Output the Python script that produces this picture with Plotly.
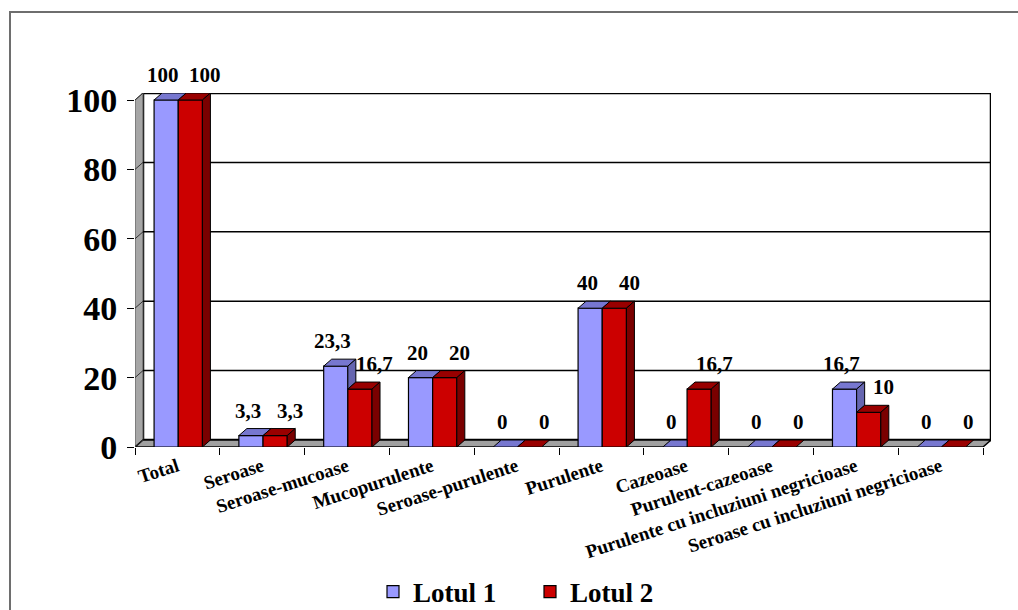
import plotly.graph_objects as go

# ---- data -------------------------------------------------------------
categories = [
    "Total",
    "Seroase",
    "Seroase-mucoase",
    "Mucopurulente",
    "Seroase-purulente",
    "Purulente",
    "Cazeoase",
    "Purulent-cazeoase",
    "Purulente cu incluziuni negricioase",
    "Seroase cu incluziuni negricioase",
]
lotul1 = [100, 3.3, 23.3, 20, 0, 40, 0, 0, 16.7, 0]
lotul2 = [100, 3.3, 16.7, 20, 0, 40, 16.7, 0, 10, 0]
series_names = ["Lotul 1", "Lotul 2"]
y_ticks = [0, 20, 40, 60, 80, 100]

# ---- styling / geometry ---------------------------------------------
FONT = "Liberation Serif, Times New Roman, serif"
W, H = 1018, 610
L, R, T, B = 135, 991, 93, 447          # plot area in pixels
DXP, DYP = 8, 7                          # depth of the pseudo-3D look (px)

ppu_y = (B - T - DYP) / 100.0
ppu_x = (R - DXP - L) / 10.0
dxu = DXP / ppu_x
dyu = DYP / ppu_y

front = {"Lotul 1": "#9999FF", "Lotul 2": "#CC0000"}
top_c = {"Lotul 1": "#7777D0", "Lotul 2": "#990000"}
side_c = {"Lotul 1": "#6666B0", "Lotul 2": "#7A0000"}

bar_w = 0.285
offsets = {"Lotul 1": -0.275, "Lotul 2": 0.01}
xs = list(range(len(categories)))


def fmt(v):
    return ("%g" % v).replace(".", ",")


fig = go.Figure()

# front faces of the bars
for name, vals in zip(series_names, [lotul1, lotul2]):
    fig.add_trace(go.Bar(
        x=xs, y=vals, name=name, width=bar_w, offset=offsets[name],
        marker=dict(color=front[name], line=dict(color="black", width=1.2)),
        hoverinfo="skip",
    ))


def poly_trace(polys, color):
    px, py = [], []
    for p in polys:
        for (a, b) in p + [p[0]]:
            px.append(a)
            py.append(b)
        px.append(None)
        py.append(None)
    return go.Scatter(x=px, y=py, mode="lines", fill="toself",
                      fillcolor=color, line=dict(color="black", width=1),
                      showlegend=False, hoverinfo="skip")


tops = {"Lotul 1": [], "Lotul 2": []}
sides = {"Lotul 1": [], "Lotul 2": []}
for i, (v1, v2) in enumerate(zip(lotul1, lotul2)):
    # Lotul 1 (partly hidden behind Lotul 2)
    xl = i + offsets["Lotul 1"]
    xr = xl + bar_w
    if v2 > v1:
        tops["Lotul 1"].append([(xl, v1), (xr, v1), (xr, v1 + dyu), (xl + dxu, v1 + dyu)])
    else:
        tops["Lotul 1"].append([(xl, v1), (xr, v1), (xr + dxu, v1 + dyu), (xl + dxu, v1 + dyu)])
    if v1 > v2:
        sides["Lotul 1"].append([(xr, v2), (xr, v1), (xr + dxu, v1 + dyu), (xr + dxu, v2 + dyu)])
    # Lotul 2
    xl = i + offsets["Lotul 2"]
    xr = xl + bar_w
    tops["Lotul 2"].append([(xl, v2), (xr, v2), (xr + dxu, v2 + dyu), (xl + dxu, v2 + dyu)])
    if v2 > 0:
        sides["Lotul 2"].append([(xr, 0), (xr, v2), (xr + dxu, v2 + dyu), (xr + dxu, dyu)])

for name in series_names:
    fig.add_trace(poly_trace(tops[name], top_c[name]))
    if sides[name]:
        fig.add_trace(poly_trace(sides[name], side_c[name]))

# ---- walls, floor and gridlines -------------------------------------
x0, x1 = -0.5, len(categories) - 0.5
shapes = []


def path(pts):
    return "M " + " L ".join(f"{a},{b}" for a, b in pts) + " Z"


# back wall
shapes.append(dict(type="rect", xref="x", yref="y", x0=x0 + dxu, x1=x1 + dxu,
                   y0=dyu, y1=100 + dyu, fillcolor="white",
                   line=dict(color="black", width=2.5), layer="below"))
# left side wall
shapes.append(dict(type="path", xref="x", yref="y",
                   path=path([(x0, 0), (x0, 100), (x0 + dxu, 100 + dyu), (x0 + dxu, dyu)]),
                   fillcolor="#A6A6A6", line=dict(color="#555555", width=1), layer="below"))
# floor
shapes.append(dict(type="path", xref="x", yref="y",
                   path=path([(x0, 0), (x1, 0), (x1 + dxu, dyu), (x0 + dxu, dyu)]),
                   fillcolor="#A0A0A0", line=dict(color="black", width=1.5), layer="below"))
# gridlines on back wall and across the side wall
for v in y_ticks[1:-1]:
    shapes.append(dict(type="line", xref="x", yref="y", x0=x0 + dxu, x1=x1 + dxu,
                       y0=v + dyu, y1=v + dyu, line=dict(color="black", width=1.5),
                       layer="below"))
for v in y_ticks:
    shapes.append(dict(type="line", xref="x", yref="y", x0=x0, x1=x0 + dxu,
                       y0=v, y1=v + dyu, line=dict(color="#333333", width=1),
                       layer="below"))

# outer chart frame
plot_w, plot_h = R - L, B - T
shapes.append(dict(type="rect", xref="paper", yref="paper",
                   x0=(10 - L) / plot_w, x1=(W + 30 - L) / plot_w,
                   y0=(B - (H + 30)) / plot_h, y1=(B - 12) / plot_h,
                   line=dict(color="#6E6E6E", width=2), fillcolor="rgba(0,0,0,0)",
                   layer="below"))

# ---- value labels ---------------------------------------------------
annotations = []
label_dx = {"Lotul 1": -3, "Lotul 2": 15}
for name, vals in zip(series_names, [lotul1, lotul2]):
    for i, v in enumerate(vals):
        annotations.append(dict(
            x=i + offsets[name] + bar_w / 2, y=v, xref="x", yref="y",
            text=fmt(v), showarrow=False,
            xshift=label_dx[name], yshift=DYP + 18,
            font=dict(family=FONT, size=21, color="black", weight="bold"),
        ))

fig.update_layout(
    width=W, height=H,
    margin=dict(l=L, r=W - R, t=T, b=H - B, pad=0, autoexpand=False),
    paper_bgcolor="white", plot_bgcolor="white",
    barmode="overlay",
    shapes=shapes, annotations=annotations,
    showlegend=True,
    legend=dict(orientation="h", xanchor="center", yanchor="middle",
                x=(530 - L) / plot_w, y=(B - 592) / plot_h,
                font=dict(family=FONT, size=27, color="black", weight="bold"),
                bgcolor="rgba(0,0,0,0)", itemwidth=30,
                entrywidth=112, entrywidthmode="pixels"),
    font=dict(family=FONT, color="black"),
)
fig.update_xaxes(
    range=[x0, x1 + dxu], tickmode="array", tickvals=xs,
    ticktext=categories,
    tickangle=-18, ticks="", showgrid=False, zeroline=False, showline=False,
    tickfont=dict(family=FONT, size=19, color="black", weight="bold"), automargin=False,
    ticklabelstandoff=4,
    minor=dict(tickmode="array", tickvals=[k - 0.5 for k in range(len(categories) + 1)],
               ticks="outside", ticklen=7, tickcolor="black", tickwidth=1, showgrid=False),
    fixedrange=True,
)
fig.update_yaxes(
    range=[0, 100 + dyu], tickmode="array", tickvals=y_ticks,
    ticktext=[str(t) for t in y_ticks],
    ticks="outside", ticklen=7, tickcolor="black", tickwidth=1,
    showgrid=False, zeroline=False, showline=False,
    tickfont=dict(family=FONT, size=34, color="black", weight="bold"), automargin=False,
    ticklabelstandoff=3, fixedrange=True,
)

fig.write_html("out.html")
